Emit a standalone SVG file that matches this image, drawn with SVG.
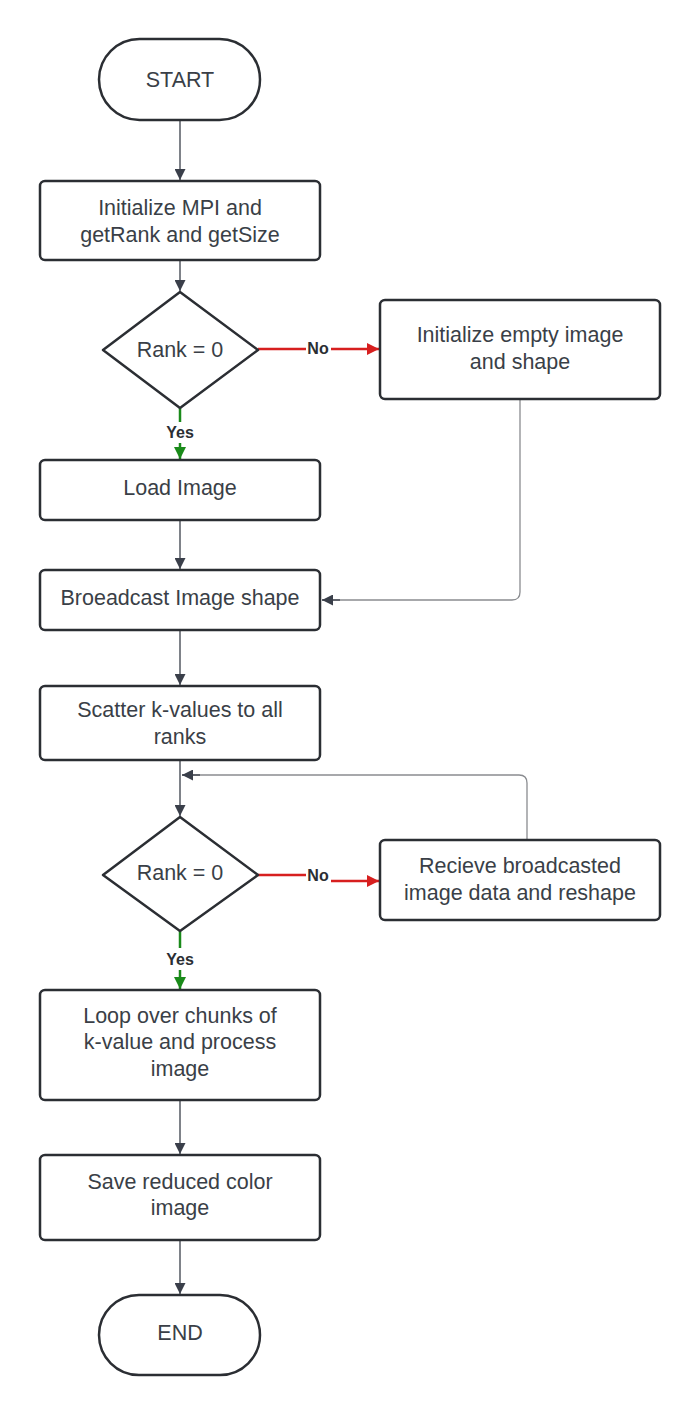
<svg xmlns="http://www.w3.org/2000/svg" width="700" height="1415" viewBox="0 0 700 1415">
<defs>
<style>
.n{fill:#fff;stroke:#2b2e33;stroke-width:2.5}
.t{font-family:"Liberation Sans",Arial,sans-serif;font-size:21.5px;fill:#3a3f47;text-anchor:middle}
.c{fill:none;stroke:#3a3f4a;stroke-width:1.3}
.g{fill:none;stroke:#8a8c90;stroke-width:1.3}
.r{fill:none;stroke:#d71f1f;stroke-width:2.5}
.gr{fill:none;stroke:#1a8a1a;stroke-width:2.5}
.l{font-family:"Liberation Sans",Arial,sans-serif;font-size:16px;font-weight:bold;fill:#2b2e33;text-anchor:middle}
</style>
<marker id="ad" viewBox="0 0 10 10" refX="10" refY="5" markerWidth="11" markerHeight="11" markerUnits="userSpaceOnUse" orient="auto"><path d="M0,0L10,5L0,10z" fill="#3a3f4a"/></marker>
<marker id="ar" viewBox="0 0 10 10" refX="10" refY="5" markerWidth="15" markerHeight="12" markerUnits="userSpaceOnUse" orient="auto"><path d="M0,0L10,5L0,10z" fill="#d71f1f"/></marker>
<marker id="ag" viewBox="0 0 10 10" refX="10" refY="5" markerWidth="13" markerHeight="12" markerUnits="userSpaceOnUse" orient="auto"><path d="M0,0L10,5L0,10z" fill="#1a8a1a"/></marker>
</defs>
<rect width="700" height="1415" fill="#fff"/>
<g id="connectors">
<path class="c" d="M180,120V180" marker-end="url(#ad)"/>
<path class="c" d="M180,260V291" marker-end="url(#ad)"/>
<path class="r" d="M258,349H306"/>
<path class="r" d="M331,349H379" marker-end="url(#ar)"/>
<path class="gr" d="M180,408V422"/>
<path class="gr" d="M180,443V459" marker-end="url(#ag)"/>
<path class="c" d="M180,520V569" marker-end="url(#ad)"/>
<path class="g" d="M520,400V592Q520,600 512,600H322" />
<path class="c" d="M340,600H322" marker-end="url(#ad)"/>
<path class="c" d="M180,630V685" marker-end="url(#ad)"/>
<path class="c" d="M180,760V816" marker-end="url(#ad)"/>
<path class="g" d="M527,840V783Q527,775 519,775H182"/>
<path class="c" d="M200,775H182" marker-end="url(#ad)"/>
<path class="r" d="M258,875H306"/>
<path class="r" d="M331,881H379" marker-end="url(#ar)"/>
<path class="gr" d="M180,930V948"/>
<path class="gr" d="M180,970V989" marker-end="url(#ag)"/>
<path class="c" d="M180,1100V1154" marker-end="url(#ad)"/>
<path class="c" d="M180,1240V1294" marker-end="url(#ad)"/>
<text class="l" x="318" y="354">No</text>
<text class="l" x="318" y="881">No</text>
<text class="l" x="180" y="438">Yes</text>
<text class="l" x="180" y="965">Yes</text>
</g>
<g id="start"><rect class="n" x="99" y="39" width="161" height="81" rx="40.5"/><text class="t" x="180" y="87">START</text></g>
<g id="init"><rect class="n" x="40" y="181" width="280" height="79" rx="5"/><text class="t" x="180" y="215">Initialize MPI and</text><text class="t" x="180" y="242">getRank and getSize</text></g>
<g id="dec1"><path class="n" d="M180,292L258,350L180,408L103,350Z" stroke-linejoin="round"/><text class="t" x="180" y="357">Rank = 0</text></g>
<g id="empty"><rect class="n" x="380" y="300" width="280" height="99" rx="5"/><text class="t" x="520" y="342">Initialize empty image</text><text class="t" x="520" y="369">and shape</text></g>
<g id="load"><rect class="n" x="40" y="460" width="280" height="60" rx="5"/><text class="t" x="180" y="495">Load Image</text></g>
<g id="bcast"><rect class="n" x="40" y="570" width="280" height="60" rx="5"/><text class="t" x="180" y="605">Broeadcast Image shape</text></g>
<g id="scatter"><rect class="n" x="40" y="686" width="280" height="74" rx="5"/><text class="t" x="180" y="717">Scatter k-values to all</text><text class="t" x="180" y="744">ranks</text></g>
<g id="dec2"><path class="n" d="M180,817L258,875L180,931L103,875Z" stroke-linejoin="round"/><text class="t" x="180" y="880">Rank = 0</text></g>
<g id="recv"><rect class="n" x="380" y="840" width="280" height="80" rx="5"/><text class="t" x="520" y="873">Recieve broadcasted</text><text class="t" x="520" y="900">image data and reshape</text></g>
<g id="loop"><rect class="n" x="40" y="990" width="280" height="110" rx="5"/><text class="t" x="180" y="1023">Loop over chunks of</text><text class="t" x="180" y="1049">k-value and process</text><text class="t" x="180" y="1076">image</text></g>
<g id="save"><rect class="n" x="40" y="1155" width="280" height="85" rx="5"/><text class="t" x="180" y="1189">Save reduced color</text><text class="t" x="180" y="1215">image</text></g>
<g id="end"><rect class="n" x="99" y="1295" width="161" height="80" rx="40"/><text class="t" x="180" y="1340">END</text></g>
</svg>
